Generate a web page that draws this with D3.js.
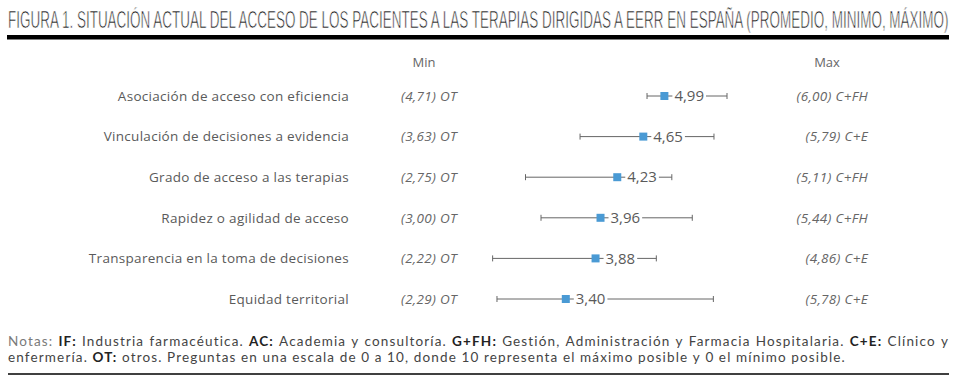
<!DOCTYPE html>
<html>
<head>
<meta charset="utf-8">
<script src="https://cdn.jsdelivr.net/npm/d3@7"></script>
<style>
  body { margin: 0; background: #fff; }
  svg text { font-family: 'Open Sans', sans-serif; }
</style>
</head>
<body>
<div id="chart"></div>
<script>
const categories = [
  'Asociación de acceso con eficiencia',
  'Vinculación de decisiones a evidencia',
  'Grado de acceso a las terapias',
  'Rapidez o agilidad de acceso',
  'Transparencia en la toma de decisiones',
  'Equidad territorial',
];
const means = [4.99, 4.65, 4.23, 3.96, 3.88, 3.4];
const mins = [4.71, 3.63, 2.75, 3.0, 2.22, 2.29];
const maxs = [6.0, 5.79, 5.11, 5.44, 4.86, 5.78];
const minGroups = ['OT', 'OT', 'OT', 'OT', 'OT', 'OT'];
const maxGroups = ['C+FH', 'C+E', 'C+FH', 'C+FH', 'C+E', 'C+E'];

const title =
  'FIGURA 1. SITUACIÓN ACTUAL DEL ACCESO DE LOS PACIENTES A LAS TERAPIAS DIRIGIDAS A EERR EN ESPAÑA (PROMEDIO, MINIMO, MÁXIMO)';

// note lines: [text, style] pieces
const noteLine1 = [
  ['Notas:', 'grey'], ['IF:', 'bold'], ['Industria farmacéutica.', 'plain'],
  ['AC:', 'bold'], ['Academia y consultoría.', 'plain'],
  ['G+FH:', 'bold'], ['Gestión, Administración y Farmacia Hospitalaria.', 'plain'],
  ['C+E:', 'bold'], ['Clínico y', 'plain'],
];
const noteLine2 = [
  ['enfermería.', 'plain'], ['OT:', 'bold'],
  ['otros. Preguntas en una escala de 0 a 10, donde 10 representa el máximo posible y 0 el mínimo posible.', 'plain'],
];

const W = 956;
const H = 384;

const locale = d3.formatLocale({
  decimal: ',',
  thousands: '.',
  grouping: [3],
  currency: ['', '€'],
});
const fmt = locale.format('.2f');

const svg = d3
  .select('#chart')
  .append('svg')
  .attr('width', W)
  .attr('height', H);

// title, squeezed horizontally to the rule width
const titleText = svg
  .append('text')
  .attr('x', 0)
  .attr('y', 0)
  .style('font-family', "'Liberation Sans Narrow', sans-serif")
  .style('font-size', '23px')
  .style('fill', '#1a1a1a')
  .style('stroke', '#fff')
  .style('stroke-width', 0.7)
  .text(title);
const titleW = titleText.node().getComputedTextLength();
titleText.attr('transform', `translate(8,28) scale(${941 / titleW},1)`);

svg
  .append('rect')
  .attr('x', 7)
  .attr('y', 35)
  .attr('width', 942)
  .attr('height', 4.5)
  .attr('fill', '#000');

const x = d3.scaleLinear().domain([2, 6]).range([479, 727]);
const y = d3.scalePoint().domain(categories).range([96, 299]);

const rows = categories.map((c, i) => ({
  cat: c,
  mean: means[i],
  min: mins[i],
  max: maxs[i],
  minG: minGroups[i],
  maxG: maxGroups[i],
}));

// headers
svg
  .append('text')
  .attr('x', 424)
  .attr('y', 62)
  .attr('dy', '0.35em')
  .attr('text-anchor', 'middle')
  .style('font-size', '13px')
  .style('fill', '#666')
  .text('Min');

svg
  .append('text')
  .attr('x', 827)
  .attr('y', 62)
  .attr('dy', '0.35em')
  .attr('text-anchor', 'middle')
  .style('font-size', '13px')
  .style('fill', '#666')
  .text('Max');

const row = svg
  .append('g')
  .selectAll('g')
  .data(rows)
  .enter()
  .append('g')
  .attr('transform', d => `translate(0,${y(d.cat)})`);

row
  .append('text')
  .attr('x', 349)
  .attr('dy', '0.35em')
  .attr('text-anchor', 'end')
  .style('font-size', '13.5px')
  .style('letter-spacing', '0.3px')
  .style('fill', '#5a5a5a')
  .text(d => d.cat);

row
  .append('text')
  .attr('x', 457)
  .attr('dy', '0.35em')
  .attr('text-anchor', 'end')
  .style('font-size', '13.5px')
  .style('letter-spacing', '0.3px')
  .style('font-style', 'italic')
  .style('fill', '#666')
  .text(d => `(${fmt(d.min)}) ${d.minG}`);

row
  .append('text')
  .attr('x', 868)
  .attr('dy', '0.35em')
  .attr('text-anchor', 'end')
  .style('font-size', '13.5px')
  .style('letter-spacing', '0.3px')
  .style('font-style', 'italic')
  .style('fill', '#666')
  .text(d => `(${fmt(d.max)}) ${d.maxG}`);

// range line + end ticks
row
  .append('line')
  .attr('x1', d => x(d.min))
  .attr('x2', d => x(d.max))
  .attr('stroke', '#666')
  .attr('stroke-width', 1);

row
  .selectAll('line.tick')
  .data(d => [d.min, d.max])
  .enter()
  .append('line')
  .attr('class', 'tick')
  .attr('x1', v => x(v))
  .attr('x2', v => x(v))
  .attr('y1', -3)
  .attr('y2', 3)
  .attr('stroke', '#666')
  .attr('stroke-width', 1);

// mean label with white backing so the line breaks around it
const labels = row
  .append('text')
  .attr('class', 'mean')
  .attr('x', d => x(d.mean) + 10)
  .attr('dy', '0.35em')
  .style('font-size', '15px')
  .style('fill', '#5a5a5a')
  .text(d => fmt(d.mean));

labels.each(function () {
  const bb = this.getBBox();
  d3.select(this.parentNode)
    .insert('rect', 'text.mean')
    .attr('x', bb.x - 2)
    .attr('y', bb.y + 3)
    .attr('width', bb.width + 4)
    .attr('height', bb.height - 6)
    .attr('fill', '#fff');
});

row
  .append('rect')
  .attr('x', d => x(d.mean) - 4)
  .attr('y', -4)
  .attr('width', 8)
  .attr('height', 8)
  .attr('fill', '#4a9ad4');

// notes
const noteStyle = {
  grey: { fill: '#7a7a7a', weight: 400 },
  bold: { fill: '#222', weight: 700 },
  plain: { fill: '#444', weight: 400 },
};

function words(pieces) {
  const out = [];
  pieces.forEach(([t, s]) => t.split(' ').forEach(w => out.push([w, s])));
  return out;
}

function drawNoteLine(pieces, yPos, justifyWidth) {
  const ws = words(pieces);
  const g = svg.append('g');
  const nodes = ws.map(([w, s]) =>
    g
      .append('text')
      .attr('y', yPos)
      .style('font-family', "Lato, sans-serif")
      .style('font-size', '13.5px')
      .style('letter-spacing', '1.15px')
      .style('fill', noteStyle[s].fill)
      .style('font-weight', noteStyle[s].weight)
      .text(w)
  );
  const widths = nodes.map(n => n.node().getComputedTextLength());
  const total = d3.sum(widths);
  const gap = justifyWidth ? (justifyWidth - total) / (ws.length - 1) : 4.5;
  let cx = 8;
  nodes.forEach((n, i) => {
    n.attr('x', cx);
    cx += widths[i] + gap;
  });
}

drawNoteLine(noteLine1, 346, 941);
drawNoteLine(noteLine2, 362, null);

svg
  .append('line')
  .attr('x1', 8)
  .attr('x2', 949)
  .attr('y1', 374)
  .attr('y2', 374)
  .attr('stroke', '#000')
  .attr('stroke-width', 1.5);
</script>
</body>
</html>
